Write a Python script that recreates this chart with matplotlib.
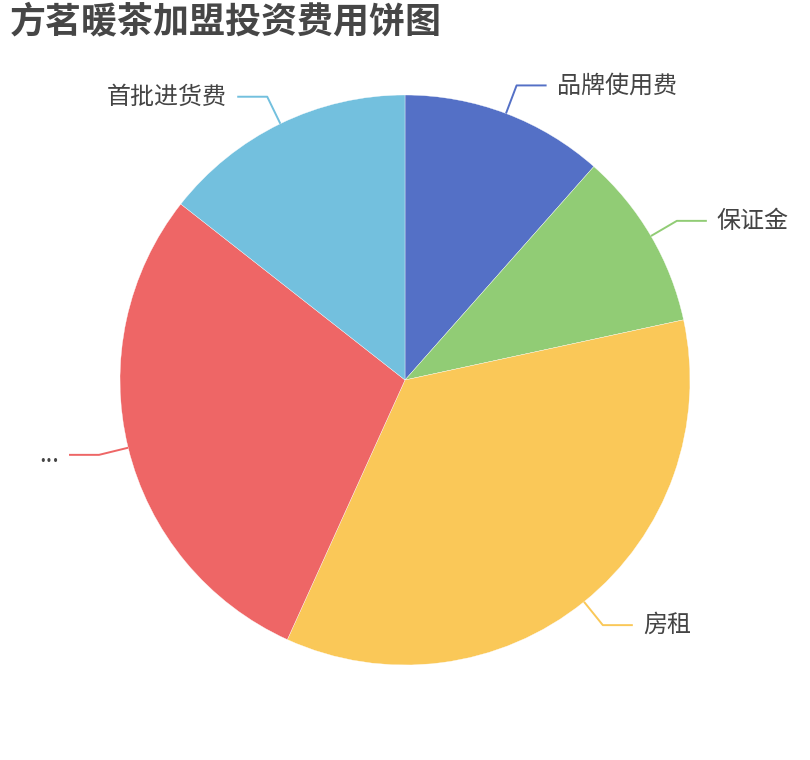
import matplotlib
matplotlib.use("Agg")
import matplotlib.pyplot as plt
import numpy as np

plt.rcParams['font.family'] = ['Noto Sans CJK SC', 'DejaVu Sans']

# data
names = ['品牌使用费', '保证金', '房租', '...', '首批进货费']
values = [4, 3.5, 12.2, 10, 5]
colors = ['#5470c6', '#91cc75', '#fac858', '#ee6666', '#73c0de']
title = '方茗暖茶加盟投资费用饼图'

W, H = 810, 760
fig = plt.figure(figsize=(W/100, H/100), dpi=100)
ax = fig.add_axes([0, 0, 1, 1])

cx, cy, r = 405, H - 380, 285
wedges, _ = ax.pie(values, colors=colors, startangle=90, counterclock=False,
                   center=(cx, cy), radius=r,
                   wedgeprops=dict(linewidth=0.25, edgecolor='white'))
ax.set_xlim(0, W)
ax.set_ylim(0, H)
ax.set_aspect('equal')
ax.axis('off')

# label lines like echarts: 30px radial, 30px horizontal, 10px gap
for w, name, col in zip(wedges, names, colors):
    ang = np.deg2rad((w.theta1 + w.theta2) / 2)
    ca, sa = np.cos(ang), np.sin(ang)
    p0 = (cx + r*ca, cy + r*sa)
    p1 = (cx + (r+30)*ca, cy + (r+30)*sa)
    s = 1 if ca >= 0 else -1
    p2 = (p1[0] + 30*s, p1[1])
    ax.plot([p0[0], p1[0], p2[0]], [p0[1], p1[1], p2[1]], color=col, lw=1.4,
            solid_capstyle='butt')
    ax.text(p2[0] + 10*s, p2[1], name, ha='left' if s > 0 else 'right',
            va='center', fontsize=17.3, color='#444444')

fig.text(10/W, 1 - 22/H, title, ha='left', va='center', fontsize=25.9,
         fontweight='bold', color='#464646')

fig.savefig('out.png', dpi=100)
